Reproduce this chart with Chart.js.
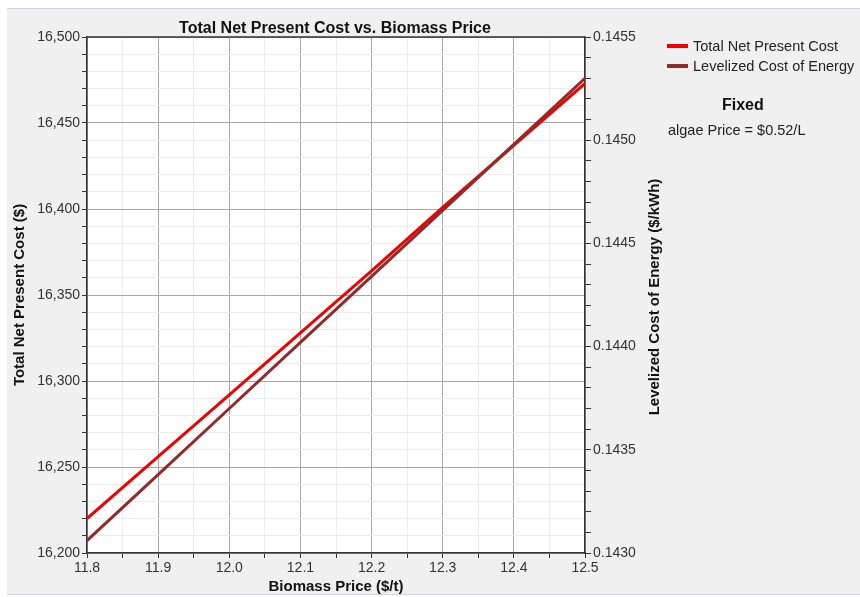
<!DOCTYPE html>
<html>
<head>
<meta charset="utf-8">
<script src="https://cdn.jsdelivr.net/npm/chart.js@4.4.0/dist/chart.umd.min.js"></script>
<style>
html,body{margin:0;padding:0;background:#fff;}
#wrap{position:relative;width:860px;height:597px;overflow:hidden;}
#panel{position:absolute;left:7px;top:8px;width:853px;height:587px;background:#f0f0f0;border-top:1px solid #cfd6df;border-bottom:1px solid #cfd6df;box-sizing:border-box;}
canvas{position:absolute;left:0;top:0;}
.leg{position:absolute;font-family:"Liberation Sans",Arial,sans-serif;font-size:14.5px;color:#222;white-space:nowrap;line-height:18px;}
.sw{position:absolute;width:21px;height:4px;}
</style>
</head>
<body>
<div id="wrap">
  <div id="panel"></div>
  <canvas id="c" width="860" height="597"></canvas>
  <div id="legend"></div>
</div>
<script>
// ---- data ----
const biomassPrice = [11.8, 11.9, 12.0, 12.1, 12.2, 12.3, 12.4, 12.5];
const totalNPC = [16220, 16256, 16292, 16328, 16364, 16401, 16437, 16473];
const lcoe = [0.14306, 0.14338, 0.14370, 0.14402, 0.14434, 0.14466, 0.14498, 0.14530];
const seriesNames = ["Total Net Present Cost", "Levelized Cost of Energy"];
const seriesColors = ["#f00000", "#932a2a"];
const chartTitle = "Total Net Present Cost vs. Biomass Price";
const xTitle = "Biomass Price ($/t)";
const yTitle = "Total Net Present Cost ($)";
const y1Title = "Levelized Cost of Energy ($/kWh)";
const fixedHeading = "Fixed";
const fixedNote = "algae Price = $0.52/L";

const FONT = '"Liberation Sans", Arial, sans-serif';
Chart.defaults.font.family = FONT;

// legend (HTML text)
const legend = document.getElementById('legend');
seriesNames.forEach((name, i) => {
  const top = 44 + i * 19.5;
  const sw = document.createElement('div');
  sw.className = 'sw';
  sw.style.left = '667px'; sw.style.top = top + 'px'; sw.style.background = seriesColors[i];
  legend.appendChild(sw);
  const t = document.createElement('div');
  t.className = 'leg';
  t.style.left = '693px'; t.style.top = (top - 7) + 'px';
  t.textContent = name;
  legend.appendChild(t);
});
const fh = document.createElement('div');
fh.className = 'leg';
fh.style.cssText = 'left:722px;top:96px;font-weight:bold;font-size:16px;color:#111;';
fh.textContent = fixedHeading;
legend.appendChild(fh);
const fn = document.createElement('div');
fn.className = 'leg';
fn.style.cssText = 'left:668px;top:121px;';
fn.textContent = fixedNote;
legend.appendChild(fn);

const isMult = (v, step) => Math.abs(v / step - Math.round(v / step)) < 1e-6;

const areaPlugin = {
  id: 'area',
  beforeDraw(chart) {
    const {ctx, chartArea: a} = chart;
    ctx.save();
    ctx.fillStyle = '#ffffff';
    ctx.fillRect(a.left, a.top, a.width, a.height);
    ctx.restore();
  },
  afterDraw(chart) {
    const {ctx, chartArea: a} = chart;
    ctx.save();
    ctx.strokeStyle = '#333';
    ctx.lineWidth = 1.5;
    ctx.beginPath();
    ctx.moveTo(a.left, a.top);
    ctx.lineTo(a.right, a.top);
    ctx.stroke();
    ctx.translate(655, (a.top + a.bottom) / 2 + 2);
    ctx.rotate(-Math.PI / 2);
    ctx.font = 'bold 15px ' + FONT;
    ctx.fillStyle = '#111';
    ctx.textAlign = 'center';
    ctx.textBaseline = 'middle';
    ctx.fillText(y1Title, 0, 0);
    ctx.restore();
  }
};

new Chart(document.getElementById('c'), {
  type: 'line',
  data: {
    datasets: [
      {
        label: seriesNames[0],
        data: biomassPrice.map((x, i) => ({x, y: totalNPC[i]})),
        borderColor: seriesColors[0],
        backgroundColor: seriesColors[0],
        borderWidth: 3,
        pointRadius: 0,
        yAxisID: 'y',
        order: 1
      },
      {
        label: seriesNames[1],
        data: biomassPrice.map((x, i) => ({x, y: lcoe[i]})),
        borderColor: seriesColors[1],
        backgroundColor: seriesColors[1],
        borderWidth: 3,
        pointRadius: 0,
        yAxisID: 'y1',
        order: 0
      }
    ]
  },
  options: {
    responsive: false,
    animation: false,
    layout: {padding: {left: 0, right: 190, top: 0, bottom: 0}},
    plugins: {
      legend: {display: false},
      tooltip: {enabled: false},
      title: {
        display: true,
        text: chartTitle,
        color: '#111',
        font: {size: 16, weight: 'bold', lineHeight: 1.0},
        padding: {top: 21, bottom: 0}
      }
    },
    scales: {
      x: {
        type: 'linear',
        min: 11.8, max: 12.5,
        afterFit(s) { s.height = 44; },
        border: {color: '#333', width: 1.5},
        grid: {
          color: c => isMult(c.tick.value, 0.1) ? '#a8a8a8' : '#ececec',
          lineWidth: 1,
          tickColor: '#333',
          tickLength: 5
        },
        ticks: {
          stepSize: 0.05,
          autoSkip: false,
          maxRotation: 0,
          padding: 2,
          color: '#333',
          font: {size: 14},
          callback: v => isMult(v, 0.1) ? v.toFixed(1) : ''
        },
        title: {
          display: true, text: xTitle, color: '#111',
          font: {size: 15, weight: 'bold'},
          padding: {top: 0, bottom: 1}
        }
      },
      y: {
        position: 'left',
        min: 16200, max: 16500,
        afterFit(s) { s.width = 87; },
        border: {color: '#333', width: 1.5},
        grid: {
          color: c => isMult(c.tick.value, 50) ? '#a8a8a8' : '#ececec',
          tickColor: '#333',
          tickLength: 5
        },
        ticks: {
          stepSize: 10,
          autoSkip: false,
          padding: 2,
          color: '#333',
          font: {size: 14},
          callback: v => isMult(v, 50) ? v.toLocaleString('en-US') : ''
        },
        title: {
          display: true, text: yTitle, color: '#111',
          font: {size: 15, weight: 'bold'},
          padding: {top: 11, bottom: 0}
        }
      },
      y1: {
        position: 'right',
        min: 0.1430, max: 0.1455,
        afterFit(s) { s.width = 85; },
        border: {color: '#333', width: 1.5},
        grid: {
          drawOnChartArea: false,
          tickColor: '#333',
          tickLength: 6
        },
        ticks: {
          stepSize: 0.0001,
          autoSkip: false,
          padding: 2,
          color: '#333',
          font: {size: 14},
          callback: v => isMult(v, 0.0005) ? v.toFixed(4) : ''
        }
      }
    }
  },
  plugins: [areaPlugin]
});
</script>
</body>
</html>
